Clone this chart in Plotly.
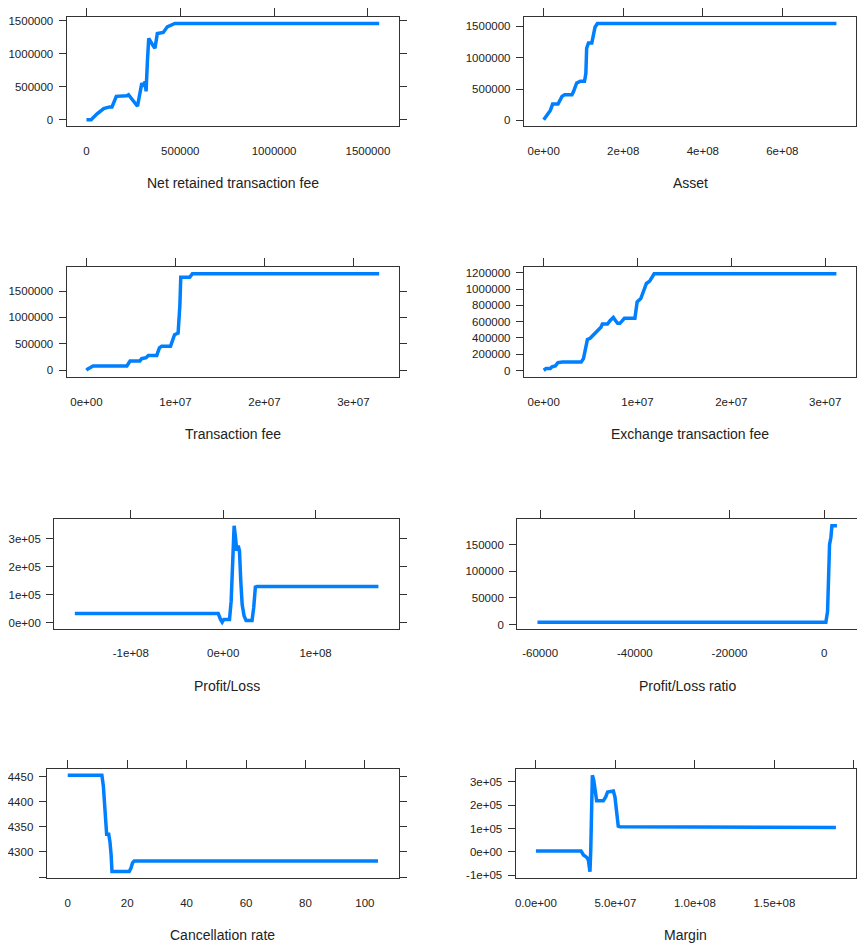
import plotly.graph_objects as go

# ---------------- data ----------------
nrtf_x = [0, 24700, 56500, 91800, 123500, 136000, 159000, 215000, 224000, 250600,
          272000, 295000, 303600, 312400, 317700, 324700, 331800, 353000, 365000,
          377700, 409500, 430600, 453600, 471200, 1560000]
nrtf_y = [0, 0, 90000, 170000, 195000, 195000, 355000, 365000, 380000, 280000,
          205000, 555000, 505000, 580000, 430000, 880000, 1230000, 1130000, 1080000,
          1305000, 1320000, 1405000, 1440000, 1455000, 1455000]

asset_x = [0, 1.67e7, 2.25e7, 3.6e7, 4.6e7, 5.25e7, 7.1e7, 7.5e7, 8.3e7, 9.2e7,
           1.025e8, 1.06e8, 1.08e8, 1.125e8, 1.21e8, 1.25e8, 1.29e8, 1.35e8, 7.36e8]
asset_y = [10000, 160000, 260000, 260000, 383000, 410000, 410000, 460000, 596000, 622000,
           622000, 745000, 1150000, 1234000, 1234000, 1394000, 1484000, 1543000, 1543000]

tfee_x = [0, 1.5e5, 4.5e5, 7.4e5, 4.54e6, 4.9e6, 6.0e6, 6.2e6, 6.7e6, 6.95e6, 7.9e6,
          8.2e6, 8.45e6, 9.45e6, 9.9e6, 1.03e7, 1.05e7, 1.06e7, 1.16e7, 1.19e7, 3.29e7]
tfee_y = [0, 25000, 50000, 80000, 80000, 174000, 174000, 218000, 237000, 280000, 280000,
          423000, 455000, 455000, 672000, 703000, 1230000, 1760000, 1760000, 1825000, 1825000]

xfee_x = [0, 2.5e5, 7.1e5, 8.8e5, 1.24e6, 1.52e6, 2.0e6, 4.0e6, 4.24e6, 4.42e6, 4.66e6,
          4.95e6, 5.4e6, 5.65e6, 6.1e6, 6.25e6, 6.8e6, 7.07e6, 7.42e6, 7.67e6, 7.88e6,
          8.13e6, 8.6e6, 9.72e6, 9.96e6, 1.035e7, 1.06e7, 1.095e7, 1.13e7, 1.155e7,
          1.177e7, 3.12e7]
xfee_y = [4000, 24000, 24000, 45000, 57000, 97000, 105000, 105000, 146000, 247000, 381000,
          397000, 450000, 490000, 531000, 572000, 572000, 612000, 653000, 612000, 580000,
          580000, 641000, 641000, 843000, 884000, 957000, 1070000, 1099000, 1140000,
          1188000, 1188000]

pl_x = [-1.606e8, -5.4e6, -2.9e6, -1.1e6, 7e5, 6.8e6, 8.6e6, 1.04e7, 1.18e7, 1.33e7,
        1.47e7, 1.62e7, 1.76e7, 1.9e7, 2.05e7, 2.26e7, 2.48e7, 3.12e7, 3.3e7, 3.48e7,
        3.66e7, 1.68e8]
pl_y = [33000, 33000, 12000, 2400, 12000, 12000, 77000, 244000, 345000, 304000,
        256000, 274000, 256000, 149000, 65000, 24000, 8000, 8000, 54000, 127000,
        129000, 129000]

plr_x = [-60560, 350, 710, 920, 1130, 1410, 1630, 2690]
plr_y = [4500, 4500, 25000, 101000, 151000, 164000, 186000, 186000]

canc_x = [0, 11.5, 12.0, 12.3, 12.9, 13.1, 13.8, 14.2, 14.6, 14.9, 20.7, 21.3, 21.8, 22.4, 104.4]
canc_y = [4452.7, 4452.7, 4431, 4398, 4355, 4335, 4335, 4321, 4295, 4261, 4261, 4268,
          4278, 4282, 4282]

marg_x = [0, 2.84e7, 2.99e7, 3.2e7, 3.3e7, 3.4e7, 3.45e7, 3.47e7, 3.55e7, 3.64e7,
          3.72e7, 3.82e7, 4.24e7, 4.39e7, 4.51e7, 4.87e7, 4.97e7, 5.08e7, 5.18e7,
          5.29e7, 1.887e8]
marg_y = [2900, 2900, -14000, -24000, -36000, -86000, 7000, 121000, 329000, 307000,
          264000, 219000, 219000, 236000, 257000, 261000, 236000, 164000, 110000,
          107000, 104000]

titles = ["Net retained transaction fee", "Asset", "Transaction fee",
          "Exchange transaction fee", "Profit/Loss", "Profit/Loss ratio",
          "Cancellation rate", "Margin"]

# tick values / labels
nrtf_xt = [0, 500000, 1000000, 1500000]
nrtf_xl = ["0", "500000", "1000000", "1500000"]
mil_yt = [0, 500000, 1000000, 1500000]
mil_yl = ["0", "500000", "1000000", "1500000"]
asset_xt = [0, 2e8, 4e8, 6e8]
asset_xl = ["0e+00", "2e+08", "4e+08", "6e+08"]
fee_xt = [0, 1e7, 2e7, 3e7]
fee_xl = ["0e+00", "1e+07", "2e+07", "3e+07"]
xfee_yt = [0, 200000, 400000, 600000, 800000, 1000000, 1200000]
xfee_yl = ["0", "200000", "400000", "600000", "800000", "1000000", "1200000"]
pl_xt = [-1e8, 0, 1e8]
pl_xl = ["-1e+08", "0e+00", "1e+08"]
pl_yt = [0, 1e5, 2e5, 3e5]
pl_yl = ["0e+00", "1e+05", "2e+05", "3e+05"]
plr_xt = [-60000, -40000, -20000, 0]
plr_xl = ["-60000", "-40000", "-20000", "0"]
plr_yt = [0, 50000, 100000, 150000]
plr_yl = ["0", "50000", "100000", "150000"]
canc_xt = [0, 20, 40, 60, 80, 100]
canc_xl = ["0", "20", "40", "60", "80", "100"]
canc_yt = [4250, 4300, 4350, 4400, 4450]
canc_yl = ["", "4300", "4350", "4400", "4450"]
marg_xt = [0, 5e7, 1e8, 1.5e8]
marg_xl = ["0.0e+00", "5.0e+07", "1.0e+08", "1.5e+08"]
marg_xtop = [0, 5e7, 1e8, 1.5e8, 2e8]
marg_yt = [-1e5, 0, 1e5, 2e5, 3e5]
marg_yl = ["-1e+05", "0e+00", "1e+05", "2e+05", "3e+05"]

# ---------------- layout helpers ----------------
OFF = 8                      # default page body margin
W, H = 865 - OFF, 948 - OFF  # figure fills the window exactly
PAD = 0.068
LINE = "#0080ff"
AX = "#333333"
TXT = "#222222"
FONT = "Liberation Sans, Arial, sans-serif"

panels = [
    (nrtf_x, nrtf_y, nrtf_xt, nrtf_xl, nrtf_xt, mil_yt, mil_yl, (66.7, 400), (15, 125)),
    (asset_x, asset_y, asset_xt, asset_xl, asset_xt, mil_yt, mil_yl, (525, 858.3), (15, 125)),
    (tfee_x, tfee_y, fee_xt, fee_xl, fee_xt, mil_yt, mil_yl, (66.7, 400), (266.7, 376.7)),
    (xfee_x, xfee_y, fee_xt, fee_xl, fee_xt, xfee_yt, xfee_yl, (525, 858.3), (266.7, 376.7)),
    (pl_x, pl_y, pl_xt, pl_xl, pl_xt, pl_yt, pl_yl, (54.3, 400), (520, 630)),
    (plr_x, plr_y, plr_xt, plr_xl, plr_xt, plr_yt, plr_yl, (518.3, 859.3), (520, 630)),
    (canc_x, canc_y, canc_xt, canc_xl, canc_xt, canc_yt, canc_yl, (46.7, 400), (770.7, 880.7)),
    (marg_x, marg_y, marg_xt, marg_xl, marg_xtop, marg_yt, marg_yl, (516.7, 858.3), (770.7, 881)),
]


def padded(v):
    lo, hi = min(v), max(v)
    d = hi - lo
    return [lo - PAD * d, hi + PAD * d]


def sfx(n):
    return "" if n == 1 else str(n)


fig = go.Figure()
layout = dict(
    width=W, height=H, autosize=False,
    margin=dict(l=0, r=0, t=0, b=0),
    paper_bgcolor="white", plot_bgcolor="white",
    showlegend=False,
    font=dict(family=FONT, size=11.5, color=TXT),
)
annotations = []

for i, (xs, ys, xt, xl, xtop, yt, yl, xd, yd) in enumerate(panels, start=1):
    xr = padded(xs)
    yr = padded(ys)
    xa, ya, xtopa = sfx(i), sfx(i), sfx(i + 8)
    fig.add_trace(go.Scatter(x=xs, y=ys, mode="lines",
                             line=dict(color=LINE, width=3.5),
                             xaxis=f"x{xa}", yaxis=f"y{ya}", showlegend=False))
    fig.add_trace(go.Scatter(x=[min(xs), max(xs)], y=[None, None], mode="lines",
                             xaxis=f"x{xtopa}", yaxis=f"y{ya}", showlegend=False,
                             hoverinfo="skip"))
    x0, x1 = (xd[0] - OFF) / W, min((xd[1] - OFF) / W, 1.0)
    y0, y1 = 1 - (yd[1] - OFF) / H, 1 - (yd[0] - OFF) / H
    layout[f"xaxis{xa}"] = dict(
        domain=[x0, x1], anchor=f"y{ya}", range=xr,
        tickmode="array", tickvals=xt, ticktext=xl, ticks="",
        showline=True, mirror=True, linecolor=AX, linewidth=1,
        showgrid=False, zeroline=False, ticklabelstandoff=14,
        tickfont=dict(family=FONT, size=11.5, color=TXT),
    )
    layout[f"xaxis{xtopa}"] = dict(
        overlaying=f"x{xa}", anchor=f"y{ya}", side="top", range=xr,
        tickmode="array", tickvals=xtop, ticks="outside", ticklen=8,
        tickcolor=AX, tickwidth=1, showticklabels=False,
        showgrid=False, zeroline=False, showline=False,
    )
    layout[f"yaxis{ya}"] = dict(
        domain=[y0, y1], anchor=f"x{xa}", range=yr,
        tickmode="array", tickvals=yt, ticktext=yl, ticks="outside", ticklen=7,
        tickcolor=AX, tickwidth=1, ticklabelstandoff=3,
        showline=True, mirror="ticks", linecolor=AX, linewidth=1,
        showgrid=False, zeroline=False,
        tickfont=dict(family=FONT, size=11.5, color=TXT),
    )
    annotations.append(dict(
        text=titles[i - 1], xref=f"x{xa} domain", yref=f"y{ya} domain",
        x=0.5, y=0, xanchor="center", yanchor="middle", yshift=-57,
        showarrow=False, font=dict(family=FONT, size=14, color=TXT),
    ))

layout["annotations"] = annotations
fig.update_layout(**layout)
fig.write_html("out.html")
